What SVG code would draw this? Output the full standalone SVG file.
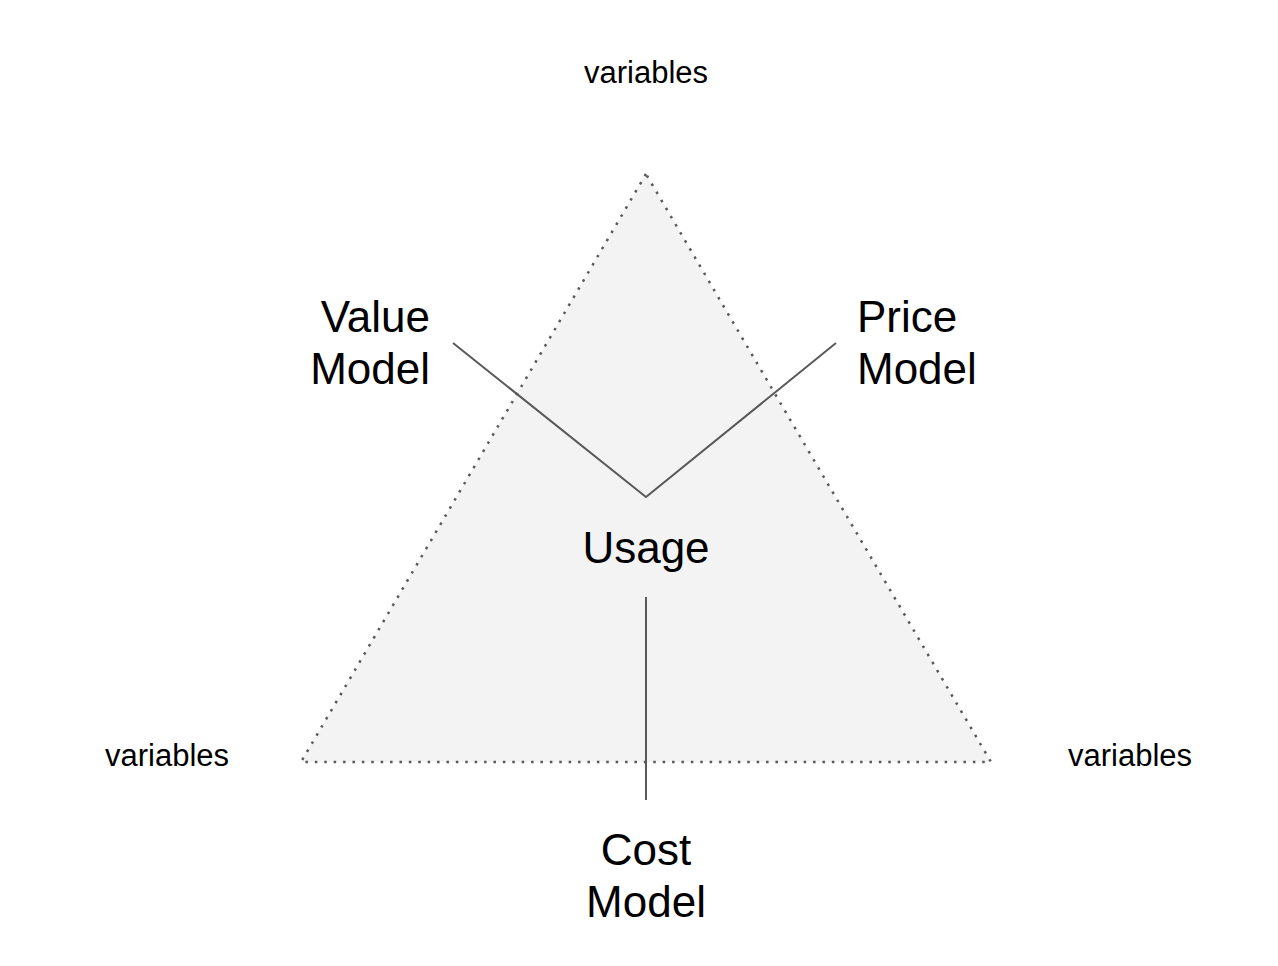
<svg xmlns="http://www.w3.org/2000/svg" width="1278" height="966" viewBox="0 0 1278 966">
<style>
.big{font-family:"Liberation Sans",Arial,sans-serif;font-size:44px;fill:#000}
.small{font-family:"Liberation Sans",Arial,sans-serif;font-size:31px;fill:#000}
.conn{stroke:#595959;stroke-width:2;fill:none}
</style>
<rect width="1278" height="966" fill="#fff"/>
<g id="triangle">
<polygon points="646,174 301,762 991,762" fill="#f3f3f3" stroke="#595959" stroke-width="2.5" stroke-dasharray="2.5 6.9"/>
</g>
<g id="connectors">
<polyline class="conn" points="453,343 646,497 836,343"/>
<line class="conn" x1="646" y1="597" x2="646" y2="800"/>
</g>
<g id="var-top"><text class="small" x="646" y="83" text-anchor="middle">variables</text></g>
<g id="var-left"><text class="small" x="167" y="766" text-anchor="middle">variables</text></g>
<g id="var-right"><text class="small" x="1130" y="766" text-anchor="middle">variables</text></g>
<g id="value-model"><text class="big" text-anchor="end"><tspan x="430" y="332">Value</tspan><tspan x="430" y="384">Model</tspan></text></g>
<g id="price-model"><text class="big"><tspan x="857" y="332">Price</tspan><tspan x="857" y="384">Model</tspan></text></g>
<g id="usage"><text class="big" x="646" y="563" text-anchor="middle">Usage</text></g>
<g id="cost-model"><text class="big" text-anchor="middle"><tspan x="646" y="865">Cost</tspan><tspan x="646" y="917">Model</tspan></text></g>
</svg>
